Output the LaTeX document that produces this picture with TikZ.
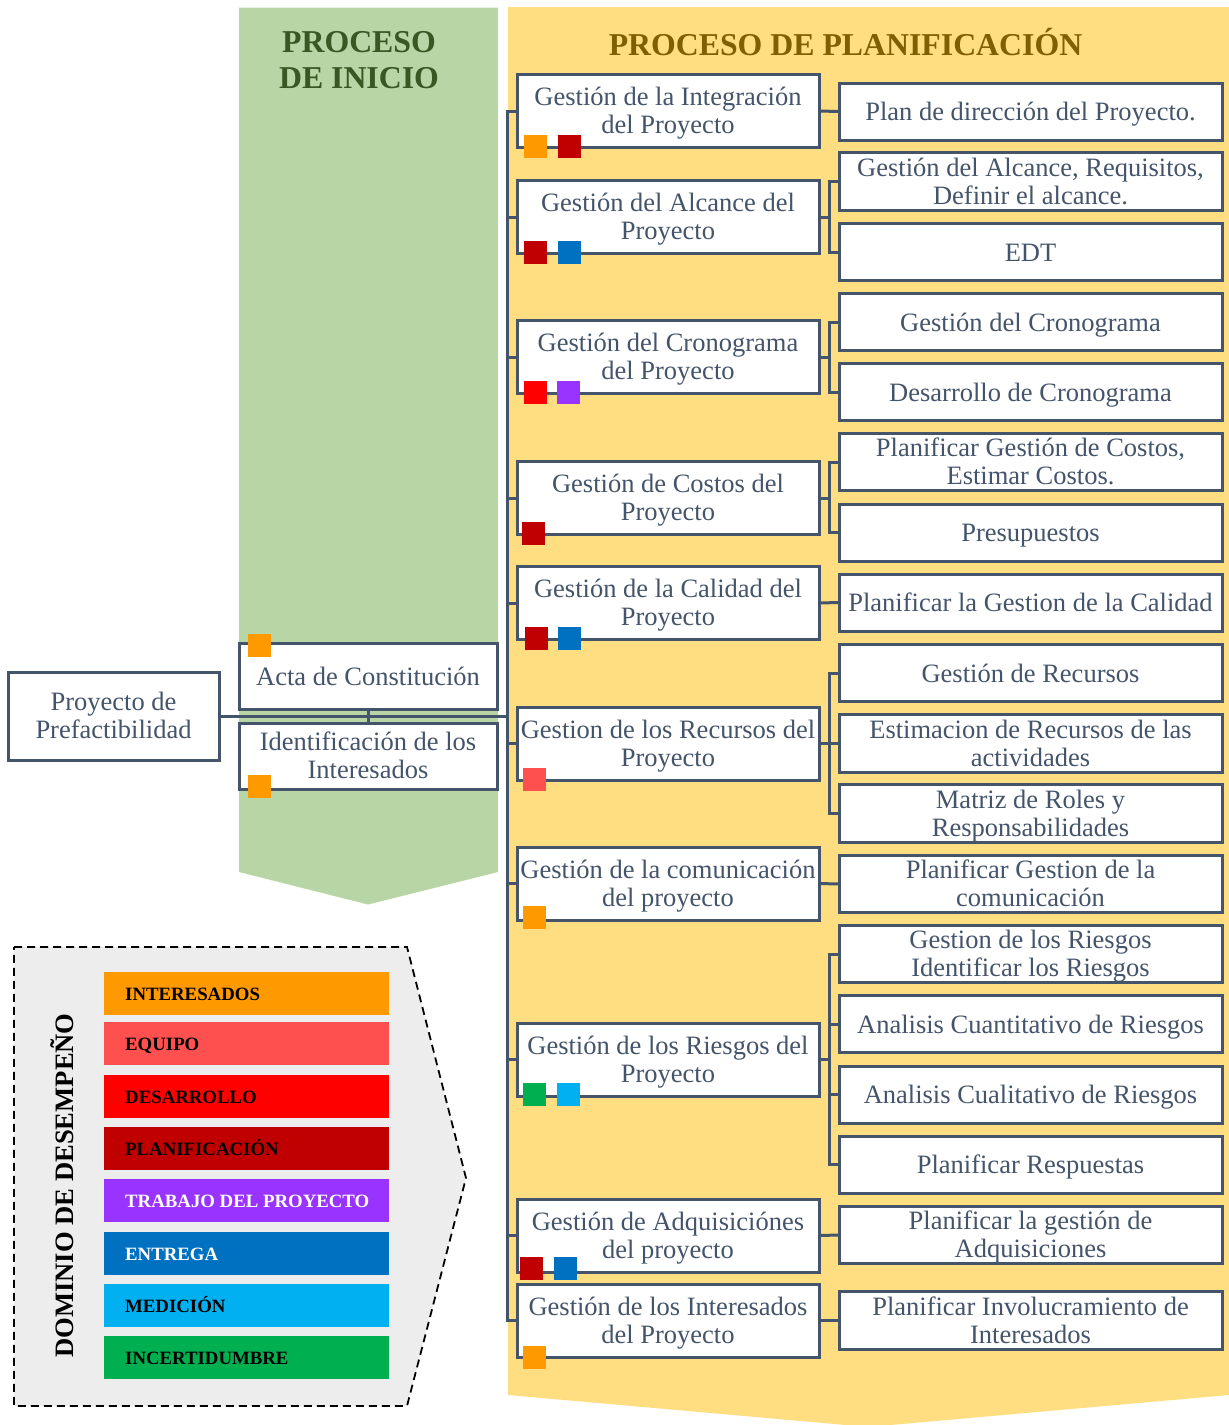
\documentclass[tikz,border=0pt]{standalone}
\usepackage{fontspec}
\setmainfont{Liberation Serif}
\usetikzlibrary{calc}

\definecolor{ink}{HTML}{44546A}
\definecolor{greenbg}{HTML}{B8D6A5}
\definecolor{yellowbg}{HTML}{FFDE82}
\definecolor{greenhd}{HTML}{385723}
\definecolor{goldhd}{HTML}{7F6000}
\definecolor{legendbg}{HTML}{EDEDED}
\definecolor{cInt}{HTML}{FF9900}
\definecolor{cEqu}{HTML}{FF5050}
\definecolor{cDes}{HTML}{FF0000}
\definecolor{cPla}{HTML}{C00000}
\definecolor{cTra}{HTML}{9933FF}
\definecolor{cEnt}{HTML}{0070C0}
\definecolor{cMed}{HTML}{00B0F0}
\definecolor{cInc}{HTML}{00B050}

% the struts fix the vertical placement of the text block inside each box
\tikzset{
  box/.style={draw=ink, line width=3pt, fill=white, inner sep=0pt, outer sep=0pt,
    text=ink, align=center, font=\fontsize{26.5}{28}\selectfont,
    execute at end node={\rule[-5.7pt]{0pt}{5.7pt}}},
  oneline/.style={execute at begin node={\rule{0pt}{24.4pt}}},
  twolines/.style={execute at begin node={\rule{0pt}{51.5pt}}},
  mainbox/.style={box, twolines, minimum width=302pt, minimum height=73pt},
  subbox/.style={box, oneline, minimum width=383pt, minimum height=57pt},
  conn/.style={draw=ink, line width=3pt},
  sq/.style={minimum size=23pt, inner sep=0pt, outer sep=0pt},
  bar/.style={minimum width=285pt, minimum height=43pt, inner sep=0pt, outer sep=0pt},
  bartxt/.style={anchor=base west, inner sep=0pt, font=\fontsize{18.8}{20}\selectfont\bfseries},
  header/.style={inner sep=0pt, align=center, font=\fontsize{31.8}{36}\selectfont\bfseries}
}

\begin{document}
\begin{tikzpicture}[x=1pt,y=-1pt]
\useasboundingbox (0,0) rectangle (1229,1425);
\clip (0,0) rectangle (1229,1425);

% process columns
\fill[greenbg] (239,7.5) -- (498,7.5) -- (498,872) -- (368,904.5) -- (239,872) -- cycle;
\fill[yellowbg] (508,7) -- (1240,7) -- (1240,1394) -- (868,1427) -- (508,1395) -- cycle;

\node[header, text=greenhd] (hini) at (359,60.5) {PROCESO\\DE INICIO};
\node[header, text=goldhd, anchor=base] (hpla) at (845.5,55.5) {PROCESO DE PLANIFICACIÓN};

% initiation
\node[box, twolines, minimum width=211pt, minimum height=88pt] (pp) at (113.5,716) {Proyecto de\\Prefactibilidad};
\node[box, oneline, minimum width=258pt, minimum height=66pt] (acta) at (368,676) {Acta de Constitución};
\node[box, twolines, minimum width=258pt, minimum height=66pt] (ident) at (368,756) {Identificación de los\\Interesados};

% planning: knowledge areas
\node[mainbox] (m1) at (668,111) {Gestión de la Integración\\del Proyecto};
\node[mainbox] (m2) at (668,217) {Gestión del Alcance del\\Proyecto};
\node[mainbox] (m3) at (668,357) {Gestión del Cronograma\\del Proyecto};
\node[mainbox] (m4) at (668,498) {Gestión de Costos del\\Proyecto};
\node[mainbox] (m5) at (668,603) {Gestión de la Calidad del\\Proyecto};
\node[mainbox] (m6) at (668,743.5) {Gestion de los Recursos del\\Proyecto};
\node[mainbox] (m7) at (668,883.5) {Gestión de la comunicación\\del proyecto};
\node[mainbox] (m8) at (668,1059.5) {Gestión de los Riesgos del\\Proyecto};
\node[mainbox] (m9) at (668,1235.5) {Gestión de Adquisiciónes\\del proyecto};
\node[mainbox] (m10) at (668,1320.5) {Gestión de los Interesados\\del Proyecto};

% planning: processes and outputs
\node[subbox] (r1) at (1030.5,111.5) {Plan de dirección del Proyecto.};
\node[subbox, twolines] (r2) at (1030.5,181.5) {Gestión del Alcance, Requisitos,\\Definir el alcance.};
\node[subbox] (r3) at (1030.5,252) {EDT};
\node[subbox] (r4) at (1030.5,322) {Gestión del Cronograma};
\node[subbox] (r5) at (1030.5,392) {Desarrollo de Cronograma};
\node[subbox, twolines] (r6) at (1030.5,462) {Planificar Gestión de Costos,\\Estimar Costos.};
\node[subbox] (r7) at (1030.5,532.5) {Presupuestos};
\node[subbox] (r8) at (1030.5,602.5) {Planificar la Gestion de la Calidad};
\node[subbox] (r9) at (1030.5,673) {Gestión de Recursos};
\node[subbox, twolines] (r10) at (1030.5,743.5) {Estimacion de Recursos de las\\actividades};
\node[subbox, twolines] (r11) at (1030.5,813.5) {Matriz de Roles y\\Responsabilidades};
\node[subbox, twolines] (r12) at (1030.5,884) {Planificar Gestion de la\\comunicación};
\node[subbox, twolines] (r13) at (1030.5,954) {Gestion de los Riesgos\\Identificar los Riesgos};
\node[subbox] (r14) at (1030.5,1024) {Analisis Cuantitativo de Riesgos};
\node[subbox] (r15) at (1030.5,1094.5) {Analisis Cualitativo de Riesgos};
\node[subbox] (r16) at (1030.5,1164.5) {Planificar Respuestas};
\node[subbox, twolines] (r17) at (1030.5,1235) {Planificar la gestión de\\Adquisiciones};
\node[subbox, twolines] (r18) at (1030.5,1320.5) {Planificar Involucramiento de\\Interesados};

% connectors: initiation
\draw[conn] (pp.east) -- ($(m1.west |- pp.east)+(-10,0)$);
\draw[conn] (acta.south) -- (ident.north);

% connectors: trunk to knowledge areas
\draw[conn] (m1.west) -- ++(-10,0) |- (m10.west);
\foreach \i in {2,...,9} { \draw[conn] (m\i.west) -- ++(-10,0); }

% connectors: knowledge areas to processes
\draw[conn] (m1.east) -- (r1.west);
\draw[conn] (m5.east) -- (r8.west);
\draw[conn] (m7.east) -- (r12.west);
\draw[conn] (m9.east) -- (r17.west);
\draw[conn] (m10.east) -- (r18.west);
\foreach \m in {2,3,4,6,8} { \draw[conn] (m\m.east) -- ++(10,0); }
\draw[conn] (r2.west) -- ++(-10,0) |- (r3.west);
\draw[conn] (r4.west) -- ++(-10,0) |- (r5.west);
\draw[conn] (r6.west) -- ++(-10,0) |- (r7.west);
\draw[conn] (r9.west) -- ++(-10,0) |- (r11.west);
\draw[conn] (r10.west) -- ++(-10,0);
\draw[conn] (r13.west) -- ++(-10,0) |- (r16.west);
\draw[conn] (r14.west) -- ++(-10,0);
\draw[conn] (r15.west) -- ++(-10,0);

% performance domain markers
\node[sq, fill=cInt] (sa1) at ([xshift=20.5pt,yshift=-2.5pt]acta.north west) {};
\node[sq, fill=cInt] (si1) at ([xshift=20.5pt,yshift=3pt]ident.south west) {};
\node[sq, fill=cInt] (s1a) at ([xshift=18.5pt,yshift=1.5pt]m1.south west) {};
\node[sq, fill=cPla] (s1b) at ([xshift=52.5pt,yshift=1.5pt]m1.south west) {};
\node[sq, fill=cPla] (s2a) at ([xshift=18.5pt,yshift=1.5pt]m2.south west) {};
\node[sq, fill=cEnt] (s2b) at ([xshift=52.5pt,yshift=1.5pt]m2.south west) {};
\node[sq, fill=cDes] (s3a) at ([xshift=18pt,yshift=1.5pt]m3.south west) {};
\node[sq, fill=cTra] (s3b) at ([xshift=51.5pt,yshift=1.5pt]m3.south west) {};
\node[sq, fill=cPla] (s4a) at ([xshift=16.5pt,yshift=1.5pt]m4.south west) {};
\node[sq, fill=cPla] (s5a) at ([xshift=19.5pt,yshift=1.5pt]m5.south west) {};
\node[sq, fill=cEnt] (s5b) at ([xshift=52.5pt,yshift=1.5pt]m5.south west) {};
\node[sq, fill=cEqu] (s6a) at ([xshift=17.5pt,yshift=0.5pt]m6.south west) {};
\node[sq, fill=cInt] (s7a) at ([xshift=17.5pt,yshift=2.5pt]m7.south west) {};
\node[sq, fill=cInc] (s8a) at ([xshift=17.5pt,yshift=1.5pt]m8.south west) {};
\node[sq, fill=cMed] (s8b) at ([xshift=51.5pt,yshift=1.5pt]m8.south west) {};
\node[sq, fill=cPla] (s9a) at ([xshift=14.5pt,yshift=3.5pt]m9.south west) {};
\node[sq, fill=cEnt] (s9b) at ([xshift=48.5pt,yshift=3.5pt]m9.south west) {};
\node[sq, fill=cInt] (s10a) at ([xshift=17.5pt,yshift=0pt]m10.south west) {};

% legend
\draw[black, fill=legendbg, line width=1.8pt, dash pattern=on 8pt off 5pt]
  (14,947) -- (407,947) -- (466,1178) -- (407,1406) -- (14,1406) -- cycle;
\node[rotate=90, anchor=base, inner sep=0pt, font=\fontsize{26.6}{30}\selectfont\bfseries] (ldom) at (73.5,1185.5) {DOMINIO DE DESEMPEÑO};

\node[bar, fill=cInt] (b1) at (246.5,993.5) {};
\node[bar, fill=cEqu] (b2) at (246.5,1043.5) {};
\node[bar, fill=cDes] (b3) at (246.5,1096.5) {};
\node[bar, fill=cPla] (b4) at (246.5,1148.5) {};
\node[bar, fill=cTra] (b5) at (246.5,1200.5) {};
\node[bar, fill=cEnt] (b6) at (246.5,1253.5) {};
\node[bar, fill=cMed] (b7) at (246.5,1305.5) {};
\node[bar, fill=cInc] (b8) at (246.5,1357.5) {};

\node[bartxt] (t1) at (125,1000) {INTERESADOS};
\node[bartxt] (t2) at (125,1050) {EQUIPO};
\node[bartxt] (t3) at (125,1103) {DESARROLLO};
\node[bartxt] (t4) at (125,1155) {PLANIFICACIÓN};
\node[bartxt, text=white] (t5) at (125,1207) {TRABAJO DEL PROYECTO};
\node[bartxt, text=white] (t6) at (125,1260) {ENTREGA};
\node[bartxt] (t7) at (125,1312) {MEDICIÓN};
\node[bartxt] (t8) at (125,1364) {INCERTIDUMBRE};
\end{tikzpicture}
\end{document}
